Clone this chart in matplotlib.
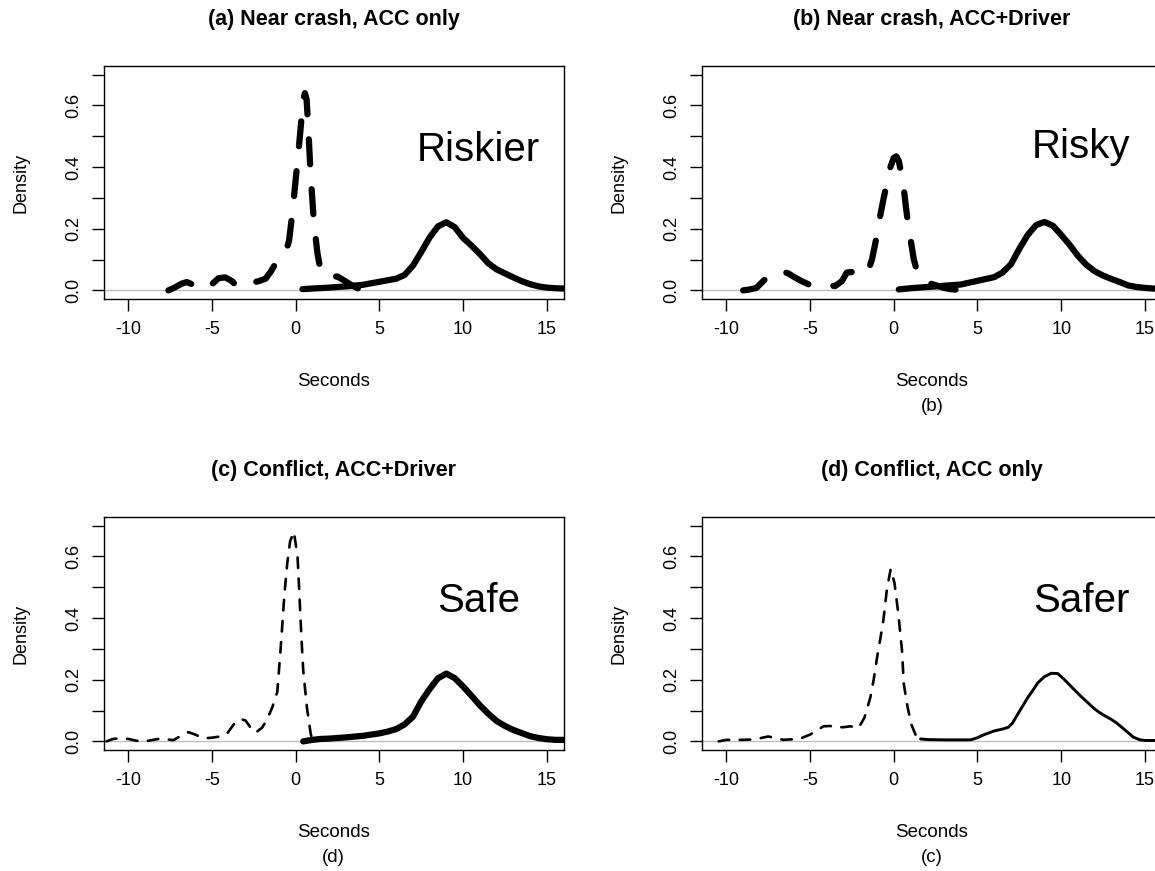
import matplotlib
matplotlib.use('Agg')
from matplotlib import pyplot as plt
import numpy as np

plt.rcParams['font.family'] = ['Liberation Sans', 'DejaVu Sans']

# (a) Near crash, ACC only
xa_dash = [-7.6, -7.2, -6.8, -6.5, -6.2, -5.8, -5.4, -5.0, -4.6, -4.2, -3.8, -3.5, -3.2, -2.9,
           -2.6, -2.2, -1.8, -1.5, -1.2, -0.9, -0.6, -0.4, -0.2, 0.0, 0.15, 0.3, 0.45, 0.55,
           0.65, 0.75, 0.85, 0.95, 1.05, 1.15, 1.3, 1.45, 1.6, 1.9, 2.2, 2.5, 2.8, 3.1, 3.4,
           3.7, 4.05]
ya_dash = [0.0, 0.01, 0.022, 0.027, 0.02, 0.008, 0.003, 0.02, 0.04, 0.042, 0.03, 0.012, 0.012,
           0.022, 0.025, 0.03, 0.038, 0.06, 0.087, 0.105, 0.125, 0.16, 0.25, 0.36, 0.44, 0.53,
           0.62, 0.64, 0.62, 0.53, 0.42, 0.33, 0.25, 0.19, 0.12, 0.075, 0.052, 0.046, 0.045,
           0.045, 0.035, 0.025, 0.015, 0.007, 0.0]
xa_solid = [0.4, 1.0, 2.0, 3.0, 4.0, 5.0, 5.5, 6.0, 6.5, 7.0, 7.5, 8.0, 8.5, 9.0, 9.5, 10.0,
            10.5, 11.0, 11.5, 12.0, 12.5, 13.0, 13.5, 14.0, 14.5, 15.0, 15.5, 16.0]
ya_solid = [0.004, 0.006, 0.009, 0.013, 0.018, 0.028, 0.033, 0.038, 0.05, 0.08, 0.125, 0.172,
            0.208, 0.221, 0.205, 0.17, 0.145, 0.118, 0.088, 0.068, 0.055, 0.042, 0.03, 0.02,
            0.013, 0.009, 0.007, 0.006]

# (b) Near crash, ACC+Driver
xb_dash = [-9.0, -8.6, -8.2, -7.8, -7.4, -7.0, -6.7, -6.3, -5.9, -5.5, -5.1, -4.7, -4.3, -3.9,
           -3.5, -3.1, -2.8, -2.4, -2.0, -1.6, -1.3, -1.0, -0.8, -0.6, -0.4, -0.2, 0.0, 0.15,
           0.3, 0.45, 0.6, 0.75, 0.9, 1.05, 1.2, 1.4, 1.6, 1.9, 2.2, 2.6, 3.0, 3.4, 3.8, 4.1]
yb_dash = [0.0, 0.003, 0.008, 0.03, 0.05, 0.062, 0.063, 0.055, 0.042, 0.03, 0.02, 0.017, 0.016,
           0.016, 0.014, 0.03, 0.058, 0.06, 0.057, 0.053, 0.1, 0.18, 0.245, 0.3, 0.35, 0.4,
           0.43, 0.435, 0.42, 0.38, 0.33, 0.26, 0.2, 0.15, 0.1, 0.06, 0.04, 0.028, 0.022,
           0.015, 0.008, 0.004, 0.002, 0.0]
xb_solid = [0.3, 1.0, 2.0, 3.0, 4.0, 5.0, 5.5, 6.0, 6.5, 7.0, 7.5, 8.0, 8.5, 9.0, 9.5, 10.0,
            10.5, 11.0, 11.5, 12.0, 12.5, 13.0, 13.5, 14.0, 14.5, 15.0, 15.5, 16.0]
yb_solid = [0.003, 0.007, 0.011, 0.015, 0.019, 0.031, 0.037, 0.043, 0.058, 0.085, 0.135, 0.18,
            0.212, 0.222, 0.21, 0.18, 0.148, 0.112, 0.083, 0.062, 0.048, 0.037, 0.027, 0.016,
            0.011, 0.008, 0.006, 0.005]

# (c) Conflict, ACC+Driver
xc_dash = [-11.3, -10.9, -10.5, -10.0, -9.5, -9.0, -8.6, -8.2, -7.8, -7.3, -6.8, -6.4, -6.0,
           -5.5, -5.0, -4.5, -4.1, -3.7, -3.3, -3.0, -2.7, -2.4, -2.0, -1.7, -1.4, -1.1, -0.9,
           -0.67, -0.5, -0.33, -0.11, 0.11, 0.22, 0.33, 0.45, 0.67, 0.89, 1.0]
yc_dash = [0.0, 0.008, 0.01, 0.008, 0.002, 0.0, 0.004, 0.008, 0.007, 0.004, 0.02, 0.03, 0.022,
           0.01, 0.012, 0.016, 0.025, 0.055, 0.072, 0.068, 0.045, 0.028, 0.045, 0.072, 0.11,
           0.16, 0.3, 0.48, 0.58, 0.65, 0.68, 0.6, 0.48, 0.35, 0.23, 0.11, 0.027, 0.0]
xc_solid = [0.45, 1.0, 1.5, 2.0, 3.0, 4.0, 5.0, 5.5, 6.0, 6.5, 7.0, 7.5, 8.0, 8.5, 9.0, 9.5,
            10.0, 10.5, 11.0, 11.5, 12.0, 12.5, 13.0, 13.5, 14.0, 14.5, 15.0, 15.5, 16.0]
yc_solid = [0.0, 0.005, 0.008, 0.009, 0.013, 0.018, 0.026, 0.032, 0.04, 0.055, 0.08, 0.13,
            0.17, 0.205, 0.22, 0.205, 0.178, 0.148, 0.117, 0.09, 0.066, 0.05, 0.037, 0.027,
            0.017, 0.011, 0.007, 0.005, 0.005]

# (d) Conflict, ACC only
xd_dash = [-10.45, -10.0, -9.5, -9.0, -8.5, -8.0, -7.5, -7.0, -6.6, -6.0, -5.5, -5.0, -4.6,
           -4.2, -3.8, -3.5, -3.0, -2.6, -2.1, -1.75, -1.4, -1.2, -0.96, -0.78, -0.62, -0.4,
           -0.18, 0.04, 0.27, 0.49, 0.6, 0.83, 1.05, 1.38, 1.72]
yd_dash = [0.0, 0.005, 0.005, 0.005, 0.006, 0.01, 0.016, 0.01, 0.005, 0.007, 0.011, 0.022,
           0.035, 0.049, 0.05, 0.046, 0.046, 0.049, 0.044, 0.077, 0.142, 0.2, 0.285, 0.34,
           0.394, 0.498, 0.559, 0.515, 0.416, 0.296, 0.186, 0.11, 0.055, 0.011, 0.0]
xd_solid = [1.6, 2.0, 3.0, 4.0, 4.6, 5.0, 5.4, 6.0, 6.5, 6.85, 7.1, 7.4, 7.7, 8.0, 8.3, 8.6,
            9.0, 9.4, 9.8, 10.2, 10.7, 11.2, 11.6, 12.0, 12.3, 12.7, 13.0, 13.3, 13.7, 14.0,
            14.3, 14.7, 15.0, 15.5, 16.0]
yd_solid = [0.008, 0.006, 0.005, 0.005, 0.005, 0.012, 0.022, 0.034, 0.04, 0.046, 0.06, 0.088,
            0.115, 0.142, 0.165, 0.19, 0.21, 0.221, 0.22, 0.2, 0.172, 0.145, 0.125, 0.105,
            0.093, 0.08, 0.071, 0.06, 0.042, 0.028, 0.014, 0.005, 0.003, 0.003, 0.003]

titles = ['(a) Near crash, ACC only', '(b) Near crash, ACC+Driver',
          '(c) Conflict, ACC+Driver', '(d) Conflict, ACC only']
words = ['Riskier', 'Risky', 'Safe', 'Safer']
word_x = [10.9, 11.2, 10.9, 11.2]
word_y = [0.42, 0.43, 0.42, 0.42]
subs = [None, '(b)', '(d)', '(c)']
xticks = [-10, -5, 0, 5, 10, 15]
yticks = [0.0, 0.1, 0.2, 0.3, 0.4, 0.5, 0.6, 0.7]
ylabels = ['0.0', '', '0.2', '', '0.4', '', '0.6', '']

panels = [
    (xa_dash, ya_dash, xa_solid, ya_solid, 4.5, 4.5),
    (xb_dash, yb_dash, xb_solid, yb_solid, 4.5, 4.5),
    (xc_dash, yc_dash, xc_solid, yc_solid, 1.9, 4.5),
    (xd_dash, yd_dash, xd_solid, yd_solid, 1.9, 2.1),
]

fig = plt.figure(figsize=(11.55, 8.71), dpi=100)
lefts = [0.090, 0.6078, 0.090, 0.6078]
bottoms = [0.6567, 0.6567, 0.1389, 0.1389]
w, h = 0.398, 0.2675

for i, (xd, yd, xs, ys, lwd, lws) in enumerate(panels):
    ax = fig.add_axes([lefts[i], bottoms[i], w, h])
    ax.axhline(0, color='#bebebe', lw=1.0, zorder=1)
    ax.plot(xd, yd, color='black', lw=lwd, dashes=(4, 4), dash_capstyle='round',
            dash_joinstyle='round', zorder=3)
    ax.plot(xs, ys, color='black', lw=lws, solid_capstyle='round',
            solid_joinstyle='round', zorder=3)
    ax.set_xlim(-11.45, 16)
    ax.set_ylim(-0.028, 0.728)
    ax.set_xticks(xticks)
    ax.set_xticklabels([str(t) for t in xticks])
    ax.set_yticks(yticks)
    ax.set_yticklabels(ylabels)
    ax.tick_params(direction='out', length=8.5, width=1.0, labelsize=13, pad=7)
    ax.tick_params(axis='y', labelrotation=90)
    for lab in ax.get_yticklabels():
        lab.set_va('center')
    for sp in ax.spines.values():
        sp.set_linewidth(1.0)
    ax.text(0.5, 1.20, titles[i], transform=ax.transAxes, ha='center', va='center',
            fontsize=15.5, fontweight='bold')
    ax.text(0.5, -0.356, 'Seconds', transform=ax.transAxes, ha='center', va='center',
            fontsize=13.5)
    if subs[i]:
        ax.text(0.5, -0.462, subs[i], transform=ax.transAxes, ha='center', va='center',
                fontsize=13.5)
    ax.text(-0.18, 0.5, 'Density', transform=ax.transAxes, ha='center', va='center',
            rotation=90, fontsize=13)
    ax.text(word_x[i], word_y[i], words[i], ha='center', va='baseline', fontsize=29)

fig.savefig('out.png', dpi=100)
